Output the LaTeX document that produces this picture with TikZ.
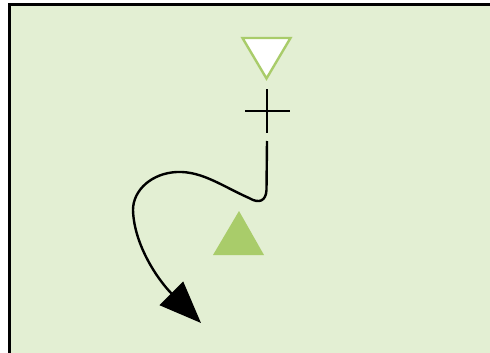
\documentclass[tikz,border=0pt]{standalone}
\usetikzlibrary{arrows.meta}
\definecolor{bgGreen}{HTML}{E3EFD3}
\definecolor{triGreen}{HTML}{A9CC6A}
\begin{document}
\begin{tikzpicture}[x=1pt,y=-1pt,
  frame/.style={draw=black,line width=2.4pt,fill=bgGreen},
  flow/.style={draw=black,line width=2.4pt},
  crossbar/.style={draw=black,line width=2.6pt}]
\useasboundingbox (0,0) rectangle (490,353);
\begin{scope}
\clip (0,0) rectangle (490,353);
\path[frame] (9.5,4.5) rectangle (500,365);
\end{scope}
% inverted triangle
\path[draw=triGreen,fill=white,line width=2.4pt,line join=miter]
  (242.5,38) -- (290.5,38) -- (266.5,78.5) -- cycle;
% plus
\coordinate (pt) at (267,89);
\coordinate (pb) at (267,133);
\coordinate (pl) at (245,111);
\coordinate (pr) at (290,111);
\draw[crossbar] (pt) -- (pb);
\draw[crossbar] (pl) -- (pr);
% green filled triangle
\path[fill=triGreen] (239,211) -- (264,255) -- (213,255) -- cycle;
% curve with arrow
\coordinate (cs) at (267,141);
\coordinate (ce) at (201,323);
\draw[flow,-{Triangle[length=42pt,width=33pt]}] (cs) -- (266.5,190)
  .. controls (266,201) and (259,204) .. (249,198)
  .. controls (222,186) and (202,171) .. (177,172)
  .. controls (152,173) and (133,190) .. (133,210)
  .. controls (134,245) and (158,280) .. (ce);
\end{tikzpicture}
\end{document}
